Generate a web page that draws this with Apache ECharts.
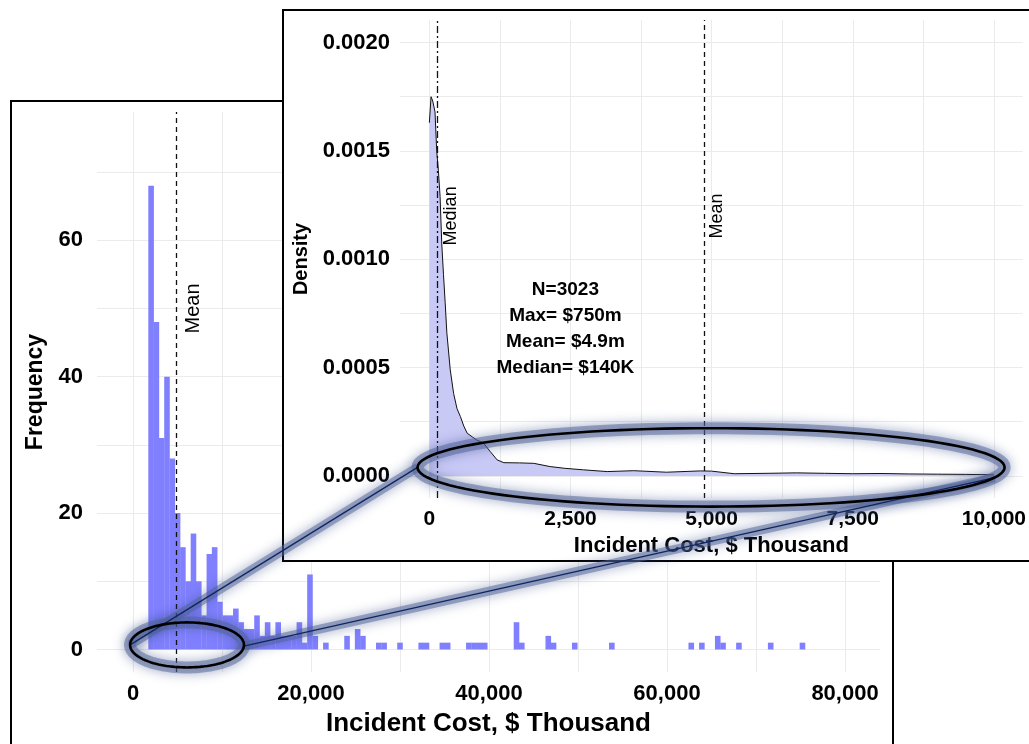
<!DOCTYPE html>
<html>
<head>
<meta charset="utf-8">
<script src="https://cdn.jsdelivr.net/npm/echarts@6/dist/echarts.min.js"></script>
<style>
html,body{margin:0;padding:0;width:1029px;height:744px;overflow:hidden;background:#fff;}
.frame{position:absolute;box-sizing:border-box;border:2px solid #000;background:#fff;}
.chart{position:absolute;left:0;top:0;width:1029px;height:744px;}
</style>
</head>
<body>
<div class="frame" style="left:10px;top:100px;width:884px;height:700px;z-index:1"></div>
<div class="chart" id="mainChart" style="z-index:2"></div>
<div class="frame" style="left:282px;top:9px;width:800px;height:553px;z-index:3"></div>
<div class="chart" id="insetChart" style="z-index:4"></div>
<script>
// ---------------- data ----------------
// Histogram of incident cost ($ thousand): left edge of first bin, bin width, counts per bin
const histBinStart = 1720;
const histBinWidth = 595;
const histCounts = [
  68,48,31,40,28,20,15,10,17,10,
  5,14,15,7,5,5,6,4,3,3,
  5,2,4,2,4,2,2,2,4,1,
  11,2,0,1,0,0,0,2,0,3,
  2,0,0,1,1,0,0,1,0,0,
  0,1,1,0,0,1,1,0,0,0,
  1,1,1,1,0,0,0,0,0,4,
  1,0,0,0,0,2,1,0,0,0,
  1,0,0,0,0,0,0,1,0,0,
  0,0,0,0,0,0,0,0,0,0,
  0,0,1,0,1,0,0,2,1,0,
  0,1,0,0,0,0,0,1,0,0,
  0,0,0,1
];
// Kernel density of incident cost ($ thousand), 0 - 10,000
const densX = [0,30,60,100,130,160,190,220,250,280,310,370,430,490,550,610,670,760,840,960,1080,1200,1320,1600,1850,2140,2400,2730,3150,3620,4200,4800,5000,5400,6000,6500,7000,7500,8000,8500,9000,9500,10000];
const densY = [0.00163,0.00175,0.00173,0.00168,0.00150,0.00141,0.00129,0.00107,0.00093,0.00080,0.00066,0.00049,0.00038,0.00031,0.000274,0.00023,0.000197,0.00018,0.000166,0.000151,0.000112,0.000074,0.000061,0.00006,0.000058,0.000043,0.000035,0.000028,0.00002,0.000024,0.000017,0.000023,0.000022,0.00001,0.000012,0.000014,0.000012,0.00001,0.000011,0.000009,0.000008,0.000007,0.000005];
// Summary statistics
const meanCost = 4870;    // $ thousand
const medianCost = 140;   // $ thousand
const statLines = ['N=3023', 'Max= $750m', 'Mean= $4.9m', 'Median= $140K'];
// Axis ticks
const mainXTicks = [0,20000,40000,60000,80000];
const mainXGrid = [0,10000,20000,30000,40000,50000,60000,70000,80000];
const mainYTicks = [0,20,40,60];
const mainYGrid = [0,10,20,30,40,50,60,70];
const insetXTicks = [0,2500,5000,7500,10000];
const insetXGrid = [0,1250,2500,3750,5000,6250,7500,8750,10000];
const insetYTicks = [0,0.0005,0.001,0.0015,0.002];
const insetYGrid = [0,0.00025,0.0005,0.00075,0.001,0.00125,0.0015,0.00175,0.002];

// ---------------- helpers ----------------
const FF = '"Liberation Sans", Arial, sans-serif';
const fmtComma = v => Math.round(v).toLocaleString('en-US');
const gridLine = {show:true, lineStyle:{color:'#ebebeb', width:1}};

const histData = histCounts.map((c,k)=>[histBinStart + k*histBinWidth, c]).filter(d=>d[1]>0);
const densData = densX.map((x,i)=>[x, densY[i]]);

function renderHist(params, api){
  const x0 = api.value(0), c = api.value(1);
  const p0 = api.coord([x0, c]);
  const p1 = api.coord([x0 + histBinWidth, 0]);
  return {type:'rect', shape:{x:p0[0], y:p0[1], width:p1[0]-p0[0]+0.3, height:p1[1]-p0[1]},
          style:{fill:'#8080ff'}};
}

// ---------------- main histogram ----------------
const mainChart = echarts.init(document.getElementById('mainChart'));
mainChart.setOption({
  animation:false,
  backgroundColor:'transparent',
  grid:{left:97, top:112, width:783, height:560},
  xAxis:{
    type:'value', min:-4045, max:83930,
    name:'Incident Cost, $ Thousand', nameLocation:'middle', nameGap:39,
    nameTextStyle:{fontFamily:FF, fontWeight:'bold', fontSize:26, color:'#000'},
    axisLine:{show:false},
    axisTick:{show:false, customValues:mainXGrid},
    axisLabel:{customValues:mainXTicks, formatter:fmtComma, fontFamily:FF, fontWeight:'bold', fontSize:22, color:'#000', margin:11},
    splitLine:gridLine
  },
  yAxis:{
    type:'value', min:-3.3, max:78.8,
    name:'Frequency', nameLocation:'middle', nameGap:46, nameRotate:90,
    nameTextStyle:{fontFamily:FF, fontWeight:'bold', fontSize:23, color:'#000'},
    axisLine:{show:false},
    axisTick:{show:false, customValues:mainYGrid},
    axisLabel:{customValues:mainYTicks, fontFamily:FF, fontWeight:'bold', fontSize:22, color:'#000', margin:14},
    splitLine:gridLine
  },
  series:[
    {
      type:'custom', renderItem:renderHist, data:histData, encode:{x:0, y:1}, z:2,
      markLine:{silent:true, symbol:'none', label:{show:false},
        lineStyle:{color:'#111', width:1.3, type:[5,4]},
        data:[{xAxis:meanCost}]}
    }
  ]
});

// ---------------- inset density ----------------
const insetChart = echarts.init(document.getElementById('insetChart'));
insetChart.setOption({
  animation:false,
  backgroundColor:'transparent',
  grid:{left:400, top:20, width:623, height:478},
  xAxis:{
    type:'value', min:-520, max:10510,
    name:'Incident Cost, $ Thousand', nameLocation:'middle', nameGap:30,
    nameTextStyle:{fontFamily:FF, fontWeight:'bold', fontSize:22, color:'#000'},
    axisLine:{show:false},
    axisTick:{show:false, customValues:insetXGrid},
    axisLabel:{customValues:insetXTicks, formatter:fmtComma, fontFamily:FF, fontWeight:'bold', fontSize:21, color:'#000', margin:11},
    splitLine:gridLine
  },
  yAxis:{
    type:'value', min:-0.000102, max:0.002104,
    name:'Density', nameLocation:'middle', nameGap:79, nameRotate:90,
    nameTextStyle:{fontFamily:FF, fontWeight:'bold', fontSize:20, color:'#000'},
    axisLine:{show:false},
    axisTick:{show:false, customValues:insetYGrid},
    axisLabel:{customValues:insetYTicks, formatter:v=>v.toFixed(4), fontFamily:FF, fontWeight:'bold', fontSize:22, color:'#000', margin:10},
    splitLine:gridLine
  },
  series:[
    {
      type:'line', data:densData, symbol:'none', smooth:false, z:2,
      lineStyle:{color:'#111', width:1},
      areaStyle:{color:'#c9c9f6', opacity:1},
      markLine:{silent:true, symbol:'none', label:{show:false},
        data:[
          {xAxis:meanCost, lineStyle:{color:'#111', width:1.3, type:[5,4]}},
          {xAxis:medianCost, lineStyle:{color:'#111', width:1.3, type:[7,3,2,3]}}
        ]}
    }
  ]
});

// ---------------- annotations (text placed at data coordinates) ----------------
function toPx(chart, x, y){ return chart.convertToPixel({xAxisIndex:0, yAxisIndex:0}, [x, y]); }
function txt(chart, x, y, s, size, weight, rot){
  const p = toPx(chart, x, y);
  return {type:'text', x:p[0], y:p[1], rotation:rot ? Math.PI/2 : 0, z:50, silent:true,
    style:{text:s, fill:'#000', font: weight + ' ' + size + 'px ' + FF, align:'center', verticalAlign:'middle'}};
}
mainChart.setOption({graphic:{elements:[ txt(mainChart, 6780, 50, 'Mean', 20, 'normal', true) ]}});

const insetTexts = [
  txt(insetChart, 390, 0.0012, 'Median', 18, 'normal', true),
  txt(insetChart, 5100, 0.0012, 'Mean', 18, 'normal', true)
];
statLines.forEach((t,i)=>insetTexts.push(txt(insetChart, 2410, 0.00086 - i*0.000121, t, 19, 'bold', false)));

// ---------------- zoom ellipses and connectors ----------------
const smallEll = {cx:6070, cy:0.67, rx:6400, ry:3.3};
const bigEll = {cx:4990, cy:0.0000392, rx:5200, ry:0.000181};
function ellPx(chart, e){
  const c = toPx(chart, e.cx, e.cy);
  const px = toPx(chart, e.cx + e.rx, e.cy + e.ry);
  return {cx:c[0], cy:c[1], rx:px[0]-c[0], ry:c[1]-px[1]};
}
const sE = ellPx(mainChart, smallEll);
const bE = ellPx(insetChart, bigEll);
function ptOn(e, deg){ const t = deg*Math.PI/180; return [e.cx + e.rx*Math.cos(t), e.cy + e.ry*Math.sin(t)]; }
function ellPoints(e){ const pts=[]; for(let i=0;i<120;i++){ pts.push(ptOn(e, i*3)); } return pts; }

const glow = {stroke:'rgba(80,98,150,0.5)', lineWidth:12, fill:'none', shadowBlur:12, shadowColor:'rgba(60,80,140,0.95)'};
const conn = [[ptOn(sE,180), ptOn(bE,180)], [ptOn(sE,3), ptOn(bE,15)]];
const graphics = insetTexts.slice();
conn.forEach(c=>graphics.push({type:'line', z:100, silent:true, shape:{x1:c[0][0],y1:c[0][1],x2:c[1][0],y2:c[1][1]}, style:Object.assign({}, glow, {lineWidth:9})}));
[sE,bE].forEach(e=>graphics.push({type:'polygon', z:100, silent:true, shape:{points:ellPoints(e)}, style:glow}));
conn.forEach(c=>graphics.push({type:'line', z:101, silent:true, shape:{x1:c[0][0],y1:c[0][1],x2:c[1][0],y2:c[1][1]}, style:{stroke:'#0f2660', lineWidth:1.3}}));
[sE,bE].forEach(e=>graphics.push({type:'polygon', z:101, silent:true, shape:{points:ellPoints(e)}, style:{stroke:'#000', lineWidth:2.6, fill:'none'}}));
insetChart.setOption({graphic:{elements:graphics}});
</script>
</body>
</html>
